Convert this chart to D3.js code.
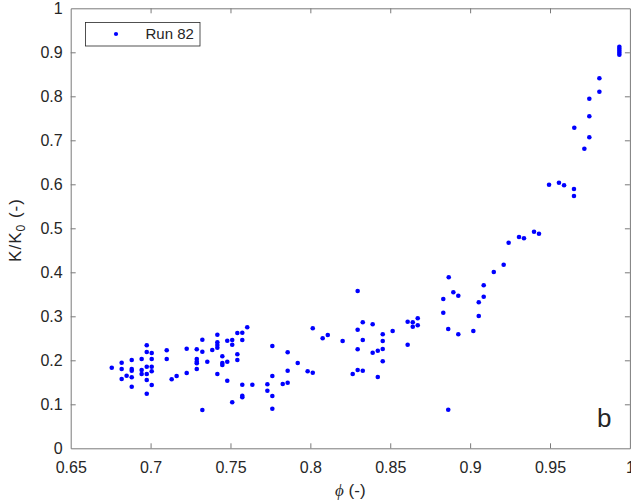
<!DOCTYPE html>
<html>
<head>
<meta charset="utf-8">
<script src="https://cdn.jsdelivr.net/npm/d3@7"></script>
<style>
  html, body { margin: 0; padding: 0; background: #fff; }
  text { font-family: "Liberation Sans", Arial, sans-serif; fill: #262626; }
</style>
</head>
<body>
<svg id="chart" width="631" height="503"></svg>
<script>
// ---- Data ----
const seriesName = "Run 82";
const phi = [
  0.6757, 0.6819, 0.6819, 0.6819, 0.6850, 0.6882, 0.6882, 0.6882, 0.6882, 0.6882,
  0.6944, 0.6944, 0.6944, 0.6976, 0.6976, 0.7007, 0.7007, 0.6976, 0.7007, 0.7007,
  0.6976, 0.6976, 0.7007, 0.6976, 0.7101, 0.7101, 0.7132, 0.7163, 0.7226, 0.7226,
  0.7289, 0.7289, 0.7289, 0.7289, 0.7289,
  0.7324, 0.7324, 0.7355, 0.7324, 0.7386, 0.7418, 0.7418, 0.7418, 0.7418, 0.7449,
  0.7449, 0.7449, 0.7418, 0.7480, 0.7511, 0.7511, 0.7480, 0.7480, 0.7543, 0.7574,
  0.7605, 0.7574, 0.7543, 0.7543, 0.7574, 0.7574, 0.7574, 0.7511, 0.7637, 0.7762,
  0.7762, 0.7731, 0.7731, 0.7762, 0.7762, 0.7827, 0.7858, 0.7858, 0.7858, 0.7921,
  0.7983, 0.8015, 0.8015, 0.8077, 0.8109,
  0.8202, 0.8296, 0.8328, 0.8296, 0.8390, 0.8328, 0.8296, 0.8390, 0.8422, 0.8453,
  0.8453, 0.8453, 0.8515, 0.8453, 0.8296, 0.8328, 0.8265, 0.8422, 0.8609, 0.8609,
  0.8641, 0.8672, 0.8641, 0.8672, 0.8832, 0.8895, 0.8926, 0.8832, 0.8863, 0.8926,
  0.8863, 0.8866,
  0.9020, 0.9054, 0.9054, 0.9085, 0.9085, 0.9148, 0.9210, 0.9241, 0.9306, 0.9337,
  0.9400, 0.9431, 0.9494, 0.9556, 0.9588, 0.9650, 0.9650,
  0.9809, 0.9809, 0.9746, 0.9746, 0.9652, 0.9746, 0.9715,
  0.9934, 0.9934, 0.9934, 0.9934, 0.9934
];
const kRatio = [
  0.1832, 0.1945, 0.1802, 0.1575, 0.1650, 0.2007, 0.1802, 0.1764, 0.1614, 0.1400,
  0.2030, 0.1780, 0.1689, 0.2341, 0.2189, 0.2166, 0.2030, 0.1855, 0.1855, 0.1750,
  0.1689, 0.1552, 0.1439, 0.1241, 0.2227, 0.2030, 0.1568, 0.1643, 0.2264, 0.1711,
  0.2250, 0.2030, 0.1968, 0.1932, 0.1802,
  0.2468, 0.2195, 0.1968, 0.0870, 0.2234, 0.2582, 0.2409, 0.2348, 0.2286, 0.2091,
  0.1939, 0.1893, 0.1689, 0.2445, 0.2461, 0.2355, 0.1968, 0.1536, 0.2620, 0.2627,
  0.2750, 0.2461, 0.2136, 0.2007, 0.1445, 0.1195, 0.1159, 0.1045, 0.1445, 0.2325,
  0.1643, 0.1455, 0.1309, 0.1189, 0.0900, 0.1461, 0.1491, 0.2182, 0.1764, 0.1939,
  0.1750, 0.1718, 0.2727, 0.2500, 0.2575,
  0.2439, 0.3575, 0.2864, 0.2695, 0.2818, 0.2461, 0.2250, 0.2173, 0.2218, 0.2257,
  0.2591, 0.2439, 0.2666, 0.1977, 0.1780, 0.1764, 0.1689, 0.1620, 0.2355, 0.2877,
  0.2864, 0.2955, 0.2764, 0.2795, 0.3393, 0.3545, 0.3468, 0.3082, 0.2711, 0.2591,
  0.0877, 0.3886,
  0.2666, 0.3007, 0.3318, 0.3445, 0.3705, 0.4007, 0.4173, 0.4673, 0.4802, 0.4773,
  0.4923, 0.4877, 0.5991, 0.6036, 0.5977, 0.5893, 0.5734,
  0.8409, 0.8105, 0.7945, 0.7545, 0.7286, 0.7068, 0.6809,
  0.9127, 0.9082, 0.9036, 0.8991, 0.8945
];
const xTicks = [0.65, 0.7, 0.75, 0.8, 0.85, 0.9, 0.95, 1];
const yTicks = [0, 0.1, 0.2, 0.3, 0.4, 0.5, 0.6, 0.7, 0.8, 0.9, 1];
const panelLetter = "b";

// ---- Layout ----
const svg = d3.select("#chart");
const L = 70.7, R = 629.9, T = 8.3, B = 448.3;
const axisColor = "#7a7a7a";

const x = d3.scaleLinear().domain([0.65, 1]).range([L, R]);
const y = d3.scaleLinear().domain([0, 1]).range([B, T]);
const fmt = d => String(+d.toFixed(2));

svg.append("rect").attr("x", L).attr("y", T).attr("width", R - L).attr("height", B - T)
  .attr("fill", "#fff");

// Axes with inward ticks (box on)
const tl = 5;
const gx = svg.append("g").attr("transform", `translate(0,${B})`)
  .call(d3.axisBottom(x).tickValues(xTicks).tickSizeInner(-tl).tickSizeOuter(0).tickPadding(13).tickFormat(fmt));
const gxTop = svg.append("g").attr("transform", `translate(0,${T})`)
  .call(d3.axisTop(x).tickValues(xTicks).tickSizeInner(-tl).tickSizeOuter(0).tickFormat(""));
const gy = svg.append("g").attr("transform", `translate(${L},0)`)
  .call(d3.axisLeft(y).tickValues(yTicks).tickSizeInner(-tl).tickSizeOuter(0).tickPadding(8).tickFormat(fmt));
const gyR = svg.append("g").attr("transform", `translate(${R},0)`)
  .call(d3.axisRight(y).tickValues(yTicks).tickSizeInner(-tl).tickSizeOuter(0).tickFormat(""));

[gx, gxTop, gy, gyR].forEach(g => {
  g.select(".domain").attr("stroke", axisColor).attr("stroke-width", 1);
  g.selectAll(".tick line").attr("stroke", axisColor).attr("stroke-width", 1);
  g.selectAll(".tick text").attr("font-size", 16).attr("fill", "#262626")
    .attr("font-family", "'Liberation Sans', Arial, sans-serif");
});
gx.selectAll(".tick").filter(d => d === 0.65 || d === 1).select("line").remove();
gxTop.selectAll(".tick").filter(d => d === 0.65 || d === 1).select("line").remove();
gy.selectAll(".tick").filter(d => d === 0 || d === 1).select("line").remove();
gyR.selectAll(".tick").filter(d => d === 0 || d === 1).select("line").remove();

// Points
const pts = phi.map((p, i) => ({ p, k: kRatio[i] }));
svg.append("g").selectAll("circle").data(pts).join("circle")
  .attr("cx", d => x(d.p)).attr("cy", d => y(d.k)).attr("r", 2.3)
  .attr("fill", "#0000ff");

// Axis titles
const xt = svg.append("text").attr("x", (L + R) / 2).attr("y", 496)
  .attr("text-anchor", "middle").attr("font-size", 17);
xt.append("tspan").attr("font-style", "italic")
  .attr("font-family", "'Liberation Serif', 'DejaVu Serif', serif").text("\u03D5");
xt.append("tspan").text(" (-)");

const yt = svg.append("text")
  .attr("transform", `translate(21,230) rotate(-90)`)
  .attr("text-anchor", "middle").attr("font-size", 17).attr("letter-spacing", 1);
yt.append("tspan").text("K/K");
yt.append("tspan").attr("font-size", 12).attr("dy", 4).text("0");
yt.append("tspan").attr("dy", -4).text(" (-)");

// Legend
const lg = svg.append("g");
lg.append("rect").attr("x", 85.5).attr("y", 22.5).attr("width", 114.5).attr("height", 23.5)
  .attr("fill", "#fff").attr("stroke", "#262626").attr("stroke-width", 0.8);
lg.append("circle").attr("cx", 116).attr("cy", 34).attr("r", 2.1).attr("fill", "#0000ff");
lg.append("text").attr("x", 145.5).attr("y", 39.4).attr("font-size", 15).text(seriesName);

// Panel letter
svg.append("text").attr("x", 597).attr("y", 427).attr("font-size", 26).attr("fill", "#000").text(panelLetter);
</script>
</body>
</html>
